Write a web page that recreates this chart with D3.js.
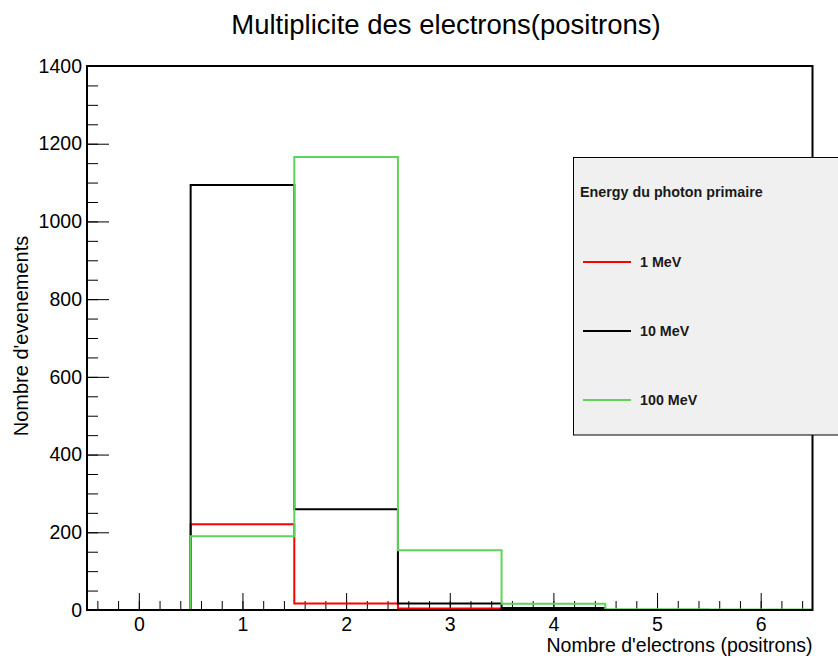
<!DOCTYPE html>
<html>
<head>
<meta charset="utf-8">
<style>
    body { margin: 0; background: #fff; }
    svg { font-family: "Liberation Sans", Arial, sans-serif; }
    .tick text { font-size: 19.5px; fill: #000; }
    .tick line { stroke: #000; }
</style>
</head>
<body>
<svg id="chart"></svg>
<script src="https://cdnjs.cloudflare.com/ajax/libs/d3/7.8.5/d3.min.js"></script>
<script>
    // histogram contents, one value per bin (bin centres 0..6)
    var bins = [0, 1, 2, 3, 4, 5, 6];
    var mev1 = [0, 221, 17, 4, 2, 0, 0];
    var mev10 = [0, 1094, 259, 17, 5, 0, 0];
    var mev100 = [0, 190, 1166, 154, 16, 2, 1];

    var seriesNames = ['1 MeV', '10 MeV', '100 MeV'];
    var seriesColors = ['#ff0000', '#000000', '#5fd35a'];
    var yTicks = [0, 200, 400, 600, 800, 1000, 1200, 1400];
    var xTicks = [0, 1, 2, 3, 4, 5, 6];

    var width = 838, height = 661;
    var frame = { left: 87, right: 812.5, top: 66, bottom: 610 };

    var svg = d3.select('#chart')
        .attr('width', width)
        .attr('height', height);

    var x = d3.scaleLinear().domain([-0.5, 6.5]).range([frame.left, frame.right]);
    var y = d3.scaleLinear().domain([0, 1400]).range([frame.bottom, frame.top]);

    // title
    svg.append('text')
        .attr('x', 446)
        .attr('y', 33.5)
        .attr('text-anchor', 'middle')
        .attr('font-size', 27.5)
        .text('Multiplicite des electrons(positrons)');

    // minor ticks first, then majors with labels (ROOT style, ticks inside the frame)
    svg.append('g')
        .attr('transform', 'translate(' + frame.left + ',0)')
        .call(d3.axisLeft(y).tickValues(d3.range(0, 1401, 50)).tickSize(-11).tickFormat(''))
        .call(function (g) { g.select('.domain').remove(); });

    svg.append('g')
        .attr('transform', 'translate(' + frame.left + ',0)')
        .call(d3.axisLeft(y).tickValues(yTicks).tickSize(-22).tickPadding(5).tickFormat(d3.format('d')))
        .call(function (g) { g.select('.domain').remove(); });

    svg.append('g')
        .attr('transform', 'translate(0,' + frame.bottom + ')')
        .call(d3.axisBottom(x).tickValues(d3.range(-4, 66, 2).map(function (d) { return d / 10; })).tickSize(-9).tickFormat(''))
        .call(function (g) { g.select('.domain').remove(); });

    svg.append('g')
        .attr('transform', 'translate(0,' + frame.bottom + ')')
        .call(d3.axisBottom(x).tickValues(xTicks).tickSize(-17).tickPadding(7).tickFormat(d3.format('d')))
        .call(function (g) { g.select('.domain').remove(); });

    // axis titles
    svg.append('text')
        .attr('x', frame.right)
        .attr('y', 652)
        .attr('text-anchor', 'end')
        .attr('font-size', 19.5)
        .text("Nombre d'electrons (positrons)");

    svg.append('text')
        .attr('transform', 'translate(28,336) rotate(-90)')
        .attr('text-anchor', 'middle')
        .attr('font-size', 20)
        .text("Nombre d'evenements");

    // histograms drawn as step outlines
    var step = d3.line()
        .x(function (d) { return x(d[0]); })
        .y(function (d) { return y(d[1]); })
        .curve(d3.curveStepAfter);

    function histPoints(values) {
        var pts = bins.map(function (b, i) { return [b - 0.5, values[i]]; });
        pts.push([bins[bins.length - 1] + 0.5, values[values.length - 1]]);
        return pts;
    }

    [mev1, mev10, mev100].forEach(function (vals, i) {
        svg.append('path')
            .attr('d', step(histPoints(vals)))
            .attr('fill', 'none')
            .attr('stroke', seriesColors[i])
            .attr('stroke-width', 2);
    });

    // frame
    svg.append('rect')
        .attr('x', frame.left)
        .attr('y', frame.top)
        .attr('width', frame.right - frame.left)
        .attr('height', frame.bottom - frame.top)
        .attr('fill', 'none')
        .attr('stroke', '#000')
        .attr('stroke-width', 2);

    // legend
    var legend = svg.append('g');
    legend.append('rect')
        .attr('x', 573.5)
        .attr('y', 157.5)
        .attr('width', 300)
        .attr('height', 277.5)
        .attr('fill', '#f0f0f0')
        .attr('stroke', '#000')
        .attr('stroke-width', 1);

    legend.append('text')
        .attr('x', 580)
        .attr('y', 197)
        .attr('font-size', 14.3)
        .attr('font-weight', 'bold')
        .attr('fill', '#1a1a1a')
        .text('Energy du photon primaire');

    var legendY = [262, 331, 400];
    seriesNames.forEach(function (name, i) {
        legend.append('line')
            .attr('x1', 583)
            .attr('x2', 631)
            .attr('y1', legendY[i])
            .attr('y2', legendY[i])
            .attr('stroke', seriesColors[i])
            .attr('stroke-width', 2);
        legend.append('text')
            .attr('x', 640)
            .attr('y', legendY[i])
            .attr('dy', '0.36em')
            .attr('font-size', 14.3)
            .attr('font-weight', 'bold')
            .attr('fill', '#1a1a1a')
            .text(name);
    });
</script>
</body>
</html>
